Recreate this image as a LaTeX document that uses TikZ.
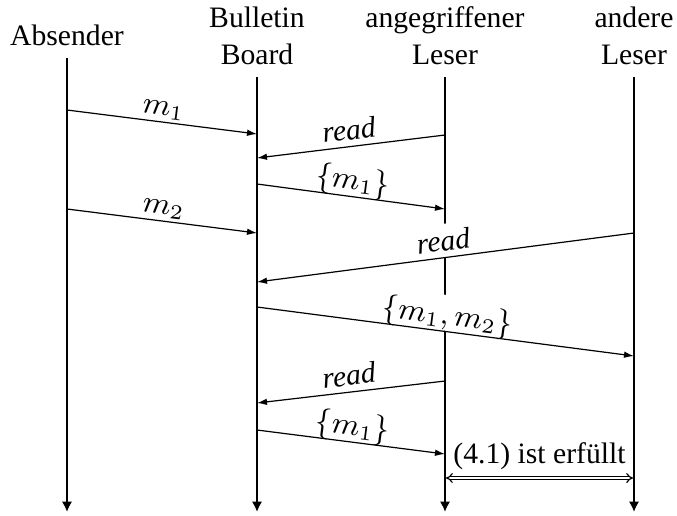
\documentclass[tikz,border=0pt]{standalone}
\usepackage{fontspec}
\setmainfont{Liberation Serif}
\usepackage{tikz}
\usetikzlibrary{arrows.meta}

\tikzset{
	actor/.style={align=center, inner sep=3.3pt, anchor=south},
	lifeline/.style={line width=0.6pt, -{Latex[length=3pt, width=3pt]}},
	message/.style={line width=0.35pt, -{Latex[length=2.9pt, width=1.9pt]}},
	msglabel/.style={midway, sloped, above, text depth=0pt, fill=white, inner sep=1.8pt},
}

\begin{document}
\begin{tikzpicture}[x=0.29pt, y=-0.29pt, font=\fontsize{8.6}{10.7}\selectfont]
	\useasboundingbox (0,0) rectangle (677,515);

	% Teilnehmer
	\node[actor] (abs) at (67,58) {Absender};
	\node[actor] (bb) at (257,77) {Bulletin\\Board};
	\node[actor] (angr) at (445,77) {angegriffener\\Leser};
	\node[actor] (andr) at (634,77) {andere\\Leser};

	\foreach \n/\x in {abs/67, bb/257, angr/445, andr/634}
		\node[shape=coordinate] (\n-end) at (\x,512) {};

	\foreach \n in {abs, bb, angr, andr}
		\draw[lifeline] (\n.south) -- (\n-end);

	% Nachrichten: Start- und Endpunkte auf den Lebenslinien
	\foreach \n/\x/\y in {m1s/67/110, m1e/257/134,
			r1s/445/135, r1e/257/158,
			a1s/257/184, a1e/445/209,
			m2s/67/209, m2e/257/233,
			r2s/634/233, r2e/257/282,
			a2s/257/307, a2e/634/356,
			r3s/445/381, r3e/257/403,
			a3s/257/430, a3e/445/454}
		\node[shape=coordinate] (\n) at (\x,\y) {};

	\foreach \s/\e/\t in {m1s/m1e/{$m_1$},
			r1s/r1e/{\textit{read}},
			a1s/a1e/{$\{m_1\}$},
			m2s/m2e/{$m_2$},
			r2s/r2e/{\textit{read}},
			a2s/a2e/{$\{m_1, m_2\}$},
			r3s/r3e/{\textit{read}},
			a3s/a3e/{$\{m_1\}$}}
	{
		\path (\s) -- node[msglabel] {\t} (\e);
		\draw[message] (\s) -- (\e);
	}

	% Bedingung zwischen den Lesern
	\node[shape=coordinate] (c1) at (446,478) {};
	\node[shape=coordinate] (c2) at (633,478) {};
	\draw[double, line width=0.35pt, double distance=0.6pt, {Implies[scale=1.4]}-{Implies[scale=1.4]}] (c1) -- node[midway, inner sep=0pt, above=2.3pt] {(4.1) ist erfüllt} (c2);
\end{tikzpicture}
\end{document}
